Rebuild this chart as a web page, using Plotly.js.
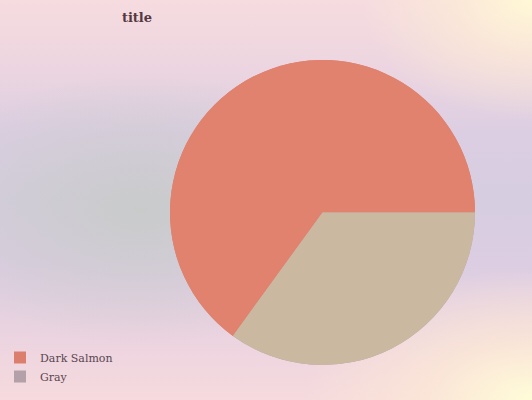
<!DOCTYPE html>
<html>
<head>
<meta charset="utf-8">
<script src="https://cdn.plot.ly/plotly-3.0.1.min.js"></script>
<style>
html, body { margin: 0; padding: 0; width: 532px; height: 400px; overflow: hidden; }
body {
  background:
    radial-gradient(ellipse 230px 135px at 140px 210px, rgba(201,203,203,1) 0%, rgba(201,203,203,0.6) 40%, rgba(201,203,203,0) 100%),
    radial-gradient(ellipse 170px 120px at 532px 0px, rgba(255,248,214,1) 0%, rgba(253,236,214,0.7) 45%, rgba(253,236,214,0) 100%),
    radial-gradient(ellipse 230px 130px at 532px 400px, rgba(255,252,216,1) 0%, rgba(252,232,214,0.8) 45%, rgba(252,232,214,0) 100%),
    linear-gradient(to bottom, #f6dcdf 0%, #eed6e0 15%, #dccee2 33%, #d6cde0 50%, #dccde2 66%, #ecd4e0 85%, #f6dadd 100%);
}
#chart { width: 532px; height: 400px; }
</style>
</head>
<body>
<div id="chart"></div>
<script>
const labels = ['Dark Salmon', 'Gray'];
const values = [65, 35];
const legendColors = ['#DC7E6E', '#B4A0A8'];
const sliceColors = ['#E0826E', '#CAB9A0'];

const total = values.reduce((a, b) => a + b, 0);
// first slice runs counter-clockwise from 3 o'clock; drawn clockwise from its far end
const startRotation = 90 - 360 * values[0] / total;

const common = {
  type: 'pie',
  labels: labels,
  values: values,
  sort: false,
  direction: 'clockwise',
  rotation: startRotation,
  textinfo: 'none',
  hoverinfo: 'none',
  domain: { x: [170 / 532, 475 / 532], y: [35 / 400, 340 / 400] }
};

const data = [
  Object.assign({}, common, {
    marker: { colors: legendColors, line: { width: 0 } },
    showlegend: true
  }),
  Object.assign({}, common, {
    marker: { colors: sliceColors, line: { width: 0 } },
    showlegend: false
  })
];

const layout = {
  width: 532,
  height: 400,
  margin: { l: 0, r: 0, t: 0, b: 0 },
  paper_bgcolor: 'rgba(0,0,0,0)',
  plot_bgcolor: 'rgba(0,0,0,0)',
  title: {
    text: '<b>title</b>',
    font: { family: 'DejaVu Serif', size: 13, color: '#553842' },
    x: 137 / 532, xanchor: 'center', xref: 'container',
    y: 1 - 17 / 400, yanchor: 'middle', yref: 'container'
  },
  legend: {
    x: 0, xanchor: 'left',
    y: 1 - 343 / 400, yanchor: 'top',
    bgcolor: 'rgba(0,0,0,0)',
    font: { family: 'DejaVu Serif', size: 11, color: '#5A4650' },
    traceorder: 'normal'
  }
};

Plotly.newPlot('chart', data, layout, { displayModeBar: false, staticPlot: true });
</script>
</body>
</html>
